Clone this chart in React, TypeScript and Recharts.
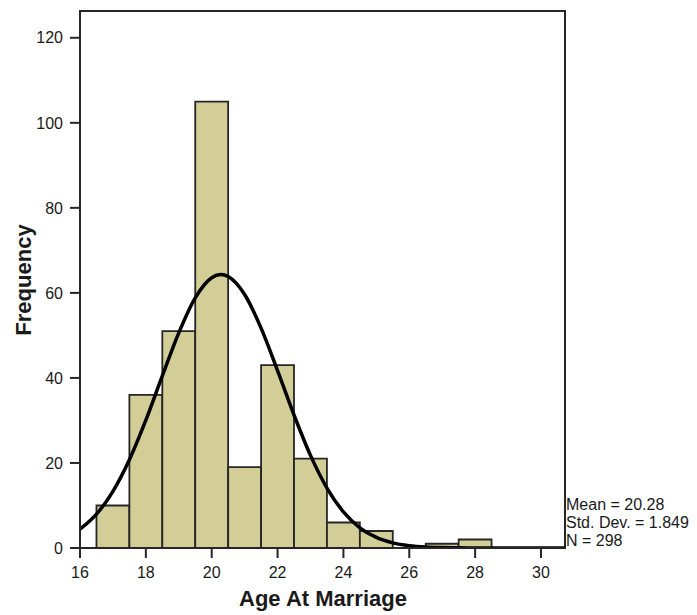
import React from "react";
import { ComposedChart, Bar, Line, XAxis, YAxis, ReferenceArea } from "recharts";

// Histogram bins (bin centre, bin width 1) and frequencies
const binCenters = [17, 18, 19, 20, 21, 22, 23, 24, 25, 26, 27, 28];
const frequencies = [10, 36, 51, 105, 19, 43, 21, 6, 4, 0, 1, 2];

// Normal curve (Mean 20.28, SD 1.849, N 298)
const curveX = [16, 16.5, 17, 17.5, 18, 18.5, 19, 19.5, 20, 20.28, 20.5, 21, 21.5, 22, 22.5, 23, 23.5, 24, 24.5, 25, 25.5, 26, 26.5, 27, 27.5, 28, 29, 30.73];
const curveY = [4.41, 7.95, 13.34, 20.77, 30.07, 40.46, 50.6, 58.83, 63.57, 64.3, 63.84, 59.61, 51.72, 41.72, 31.28, 21.79, 14.11, 8.5, 4.76, 2.48, 1.2, 0.54, 0.22, 0.09, 0.03, 0.01, 0, 0];

const xTicks = [16, 18, 20, 22, 24, 26, 28, 30];
const yTicks = [0, 20, 40, 60, 80, 100, 120];
const statsLines = ["Mean = 20.28", "Std. Dev. = 1.849", "N = 298"];
const xTitle = "Age At Marriage";
const yTitle = "Frequency";

const X_DOMAIN: [number, number] = [16, 30.73];
const Y_DOMAIN: [number, number] = [0, 126.3];

const barData = binCenters.map((x, i) => ({ x, count: frequencies[i] }));
const curveData = curveX.map((x, i) => ({ cx: x, y: curveY[i] }));

const W = 697;
const H = 615;
const PLOT_LEFT = 80;
const PLOT_RIGHT = 565;
const PLOT_TOP = 11;
const PLOT_BOTTOM = 548;
const binPx = (PLOT_RIGHT - PLOT_LEFT) / (X_DOMAIN[1] - X_DOMAIN[0]) - 0.02;

const FONT = "'Liberation Sans', Arial, sans-serif";
const LINE = "#262626";

export default function App() {
  return (
    <div style={{ position: "absolute", left: 0, top: 0, width: W, height: H, background: "#fff" }}>
      <ComposedChart
        width={W}
        height={H}
        data={barData}
        margin={{ top: PLOT_TOP, right: W - PLOT_RIGHT, left: PLOT_LEFT - 60, bottom: H - PLOT_BOTTOM - 40 }}
      >
        <XAxis
          xAxisId="b"
          dataKey="x"
          type="number"
          domain={X_DOMAIN}
          allowDataOverflow
          ticks={xTicks}
          interval={0}
          height={40}
          tickSize={10}
          tickMargin={9}
          axisLine={{ stroke: LINE, strokeWidth: 2 }}
          tickLine={{ stroke: LINE, strokeWidth: 2 }}
          tick={{ fill: "#1a1a1a", fontSize: 16, fontFamily: FONT }}
        />
        <XAxis xAxisId="c" dataKey="cx" type="number" domain={X_DOMAIN} allowDataOverflow hide />
        <YAxis
          yAxisId="l"
          type="number"
          domain={Y_DOMAIN}
          allowDataOverflow
          ticks={yTicks}
          interval={0}
          width={60}
          tickSize={10}
          tickMargin={7}
          axisLine={{ stroke: LINE, strokeWidth: 2 }}
          tickLine={{ stroke: LINE, strokeWidth: 2 }}
          tick={{ fill: "#1a1a1a", fontSize: 16, fontFamily: FONT }}
        />
        <Bar
          xAxisId="b"
          yAxisId="l"
          dataKey="count"
          barSize={binPx}
          fill="#d3ce97"
          stroke={LINE}
          strokeWidth={1.8}
          isAnimationActive={false}
        />
        <Line
          xAxisId="c"
          yAxisId="l"
          data={curveData}
          dataKey="y"
          type="monotone"
          stroke="#000"
          strokeWidth={3.5}
          dot={false}
          activeDot={false}
          isAnimationActive={false}
        />
        <ReferenceArea
          xAxisId="b"
          yAxisId="l"
          x1={X_DOMAIN[0]}
          x2={X_DOMAIN[1]}
          y1={Y_DOMAIN[0]}
          y2={Y_DOMAIN[1]}
          fill="none"
          fillOpacity={0}
          stroke={LINE}
          strokeWidth={2}
          ifOverflow="visible"
        />
        <text x={323} y={606} textAnchor="middle" fontFamily={FONT} fontWeight="bold" fontSize={22} fill="#1a1a1a">
          {xTitle}
        </text>
        <text
          x={31}
          y={280}
          textAnchor="middle"
          transform="rotate(-90, 31, 280)"
          fontFamily={FONT}
          fontWeight="bold"
          fontSize={22}
          fill="#1a1a1a"
        >
          {yTitle}
        </text>
        {statsLines.map((s, i) => (
          <text key={s} x={566} y={510 + i * 18} fontFamily={FONT} fontSize={16} fill="#1a1a1a">
            {s}
          </text>
        ))}
      </ComposedChart>
    </div>
  );
}
